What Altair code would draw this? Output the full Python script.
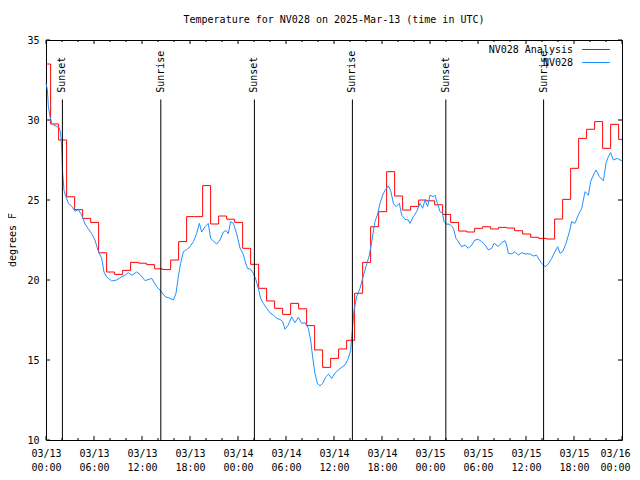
import json
import altair as alt
import pandas as pd

# ---- data ----
# Analysis (red) : hourly step values, step k starts at about hour k-0.42
red_values = [33.5, 29.75, 28.75, 25.2, 24.4, 23.85, 23.6, 21.7, 20.5, 20.35,
              20.6, 21.1, 21.05, 20.96, 20.7, 20.65, 21.25, 22.4, 23.96, 23.96,
              25.9, 23.5, 24.0, 23.8, 23.6, 21.98, 20.98, 19.48, 18.69, 18.23,
              17.85, 18.54, 18.2, 17.15, 15.63, 14.54, 15.1, 15.69, 16.23, 19.17,
              21.1, 23.33, 24.27, 26.77, 25.25, 24.37, 24.6, 25.0, 24.95, 24.7,
              24.1, 23.6, 23.06, 23.0, 23.23, 23.33, 23.19, 23.29, 23.25, 23.08,
              22.875, 22.67, 22.6, 22.56, 23.81, 25.04, 26.98, 28.85, 29.42, 29.9,
              28.23, 29.73, 28.79]
red_hours = [0.0] + [k - 0.42 for k in range(1, 73)]

# Observations (blue)
blue_hours = [0.0, 0.17, 0.29, 0.5, 0.71, 0.92, 1.33, 1.67, 1.83, 1.96,
              2.08, 2.25, 2.5, 2.79, 3.21, 3.62, 4.04, 4.46, 4.88, 5.29,
              5.71, 6.12, 6.54, 6.96, 7.25, 7.58, 8.21, 8.83, 9.46, 9.88,
              10.29, 10.71, 11.33, 11.75, 12.38, 13.21, 13.83, 14.33, 14.88, 15.5,
              15.92, 16.25, 16.54, 16.83, 17.17, 17.58, 18.0, 18.42, 18.83, 19.17,
              19.46, 19.88, 20.29, 20.58, 21.0, 21.33, 21.75, 22.17, 22.5, 22.79,
              23.08, 23.42, 23.83, 24.25, 24.67, 24.88, 25.17, 25.58, 25.92, 26.25,
              26.54, 26.83, 27.17, 27.58, 28.0, 28.42, 28.83, 29.25, 29.58, 29.88,
              30.29, 30.71, 31.12, 31.54, 31.96, 32.38, 32.79, 33.08, 33.33, 33.62,
              33.92, 34.25, 34.58, 35.0, 35.33, 35.71, 36.12, 36.54, 36.96, 37.38,
              37.79, 38.08, 38.33, 38.5, 38.83, 39.25, 39.58, 40.0, 40.42, 40.75,
              41.12, 41.42, 41.75, 42.08, 42.38, 42.79, 43.08, 43.42, 43.75, 44.17,
              44.46, 44.88, 45.29, 45.5, 45.92, 46.33, 46.75, 47.08, 47.38, 47.71,
              48.0, 48.42, 48.62, 48.92, 49.25, 49.58, 49.75, 50.0, 50.5, 50.92,
              51.25, 51.54, 51.96, 52.38, 52.79, 53.21, 53.62, 54.04, 54.46, 54.88,
              55.29, 55.71, 56.0, 56.54, 56.96, 57.38, 57.58, 57.79, 58.21, 58.62,
              59.04, 59.46, 59.88, 60.5, 60.92, 61.33, 61.67, 61.96, 62.38, 62.79,
              63.21, 63.62, 63.96, 64.25, 64.58, 65.0, 65.42, 65.71, 66.12, 66.54,
              66.96, 67.38, 67.79, 68.08, 68.42, 68.75, 69.17, 69.67, 70.0, 70.29,
              70.58, 70.92, 71.42, 72.0]
blue_values = [32.3, 31.9, 30.9, 30.2, 29.8, 29.7, 29.6, 29.5, 29.2, 28.3,
               26.7, 25.6, 25.2, 24.8, 24.6, 24.3, 24.4, 24.06, 23.5, 23.2,
               22.9, 22.5, 21.8, 21.35, 20.5, 20.2, 19.94, 20.0, 20.2, 20.3,
               20.46, 20.3, 20.5, 20.35, 19.96, 20.1, 19.58, 19.33, 18.96, 18.85,
               18.75, 19.17, 20.2, 21.04, 21.77, 21.9, 22.08, 22.4, 22.9, 23.54,
               23.0, 23.33, 23.54, 22.6, 22.4, 22.25, 22.5, 23.0, 23.1, 22.9,
               23.65, 23.54, 22.9, 22.0, 21.6, 21.2, 20.73, 20.67, 20.42, 20.0,
               19.48, 18.85, 18.54, 18.23, 17.96, 17.81, 17.6, 17.54, 17.4, 16.92,
               17.19, 17.7, 17.33, 17.67, 17.29, 17.33, 16.98, 16.25, 15.2, 14.17,
               13.54, 13.38, 13.54, 13.96, 14.12, 13.85, 14.17, 14.38, 14.54, 14.69,
               15.1, 15.6, 17.08, 18.1, 18.96, 19.48, 20.1, 20.83, 21.56, 22.5,
               23.65, 24.06, 24.79, 25.3, 25.6, 25.88, 25.6, 24.79, 24.58, 24.79,
               24.06, 23.79, 23.75, 23.54, 23.96, 24.27, 24.79, 24.48, 25.0, 24.6,
               25.3, 25.2, 25.3, 24.8, 24.27, 24.17, 23.65, 23.5, 23.48, 23.23,
               22.6, 22.4, 22.08, 22.19, 21.98, 22.19, 22.5, 22.54, 22.4, 22.19,
               21.88, 21.98, 22.29, 22.1, 22.33, 22.46, 22.19, 21.67, 21.63, 21.77,
               21.56, 21.71, 21.63, 21.63, 21.5, 21.55, 21.25, 21.04, 20.83, 21.0,
               21.35, 21.77, 22.08, 21.67, 21.77, 22.29, 23.0, 23.65, 23.54, 24.06,
               24.48, 25.52, 25.3, 26.15, 26.56, 26.88, 26.46, 26.2, 27.29, 27.7,
               27.96, 27.5, 27.6, 27.44]

sun_hours = [2.05, 14.35, 26.05, 38.3, 49.98, 62.2]
sun_labels = ["Sunset", "Sunrise", "Sunset", "Sunrise", "Sunset", "Sunrise"]

x_tick_hours = [0, 6, 12, 18, 24, 30, 36, 42, 48, 54, 60, 66, 72]
x_minor_hours = [h for h in range(0, 73, 2) if h % 6 != 0]
date_labels = ["03/13", "03/13", "03/13", "03/13", "03/14", "03/14", "03/14",
               "03/14", "03/15", "03/15", "03/15", "03/15", "03/16"]
time_labels = ["00:00", "06:00", "12:00", "18:00", "00:00", "06:00", "12:00",
               "18:00", "00:00", "06:00", "12:00", "18:00", "00:00"]
y_ticks = [10, 15, 20, 25, 30, 35]

title_text = "Temperature for NV028 on 2025-Mar-13 (time in UTC)"
y_title = "degrees F"
series_names = ["NV028 Analysis", "NV028"]
series_colors = ["#ff0000", "#1e90ff"]

FONT = "DejaVu Sans Mono"
W, H = 576, 400

red_df = pd.DataFrame({"h": red_hours + [72.0], "t": red_values + [red_values[-1]]})
blue_df = pd.DataFrame({"h": blue_hours, "t": blue_values})
sun_df = pd.DataFrame({"h": sun_hours, "label": sun_labels})

label_expr = (f"[{json.dumps(date_labels)}[round(datum.value/6)], "
              f"{json.dumps(time_labels)}[round(datum.value/6)]]")

x_enc = alt.X("h:Q",
              scale=alt.Scale(domain=[0, 72], nice=False, zero=False),
              axis=alt.Axis(values=x_tick_hours, labelExpr=label_expr, title=None,
                            ticks=False, tickSize=0, domain=False, grid=False,
                            labelFont=FONT, labelFontSize=10, labelColor="black",
                            labelLineHeight=14, labelPadding=8, labelBaseline="top",
                            labelFlush=False, labelOverlap=False,
                            labelAlign={"condition": {"test": "datum.value >= 72",
                                                      "value": "right"},
                                        "value": "center"},
                            labelOffset={"condition": {"test": "datum.value >= 72",
                                                       "value": 8},
                                         "value": 0}))
y_enc = alt.Y("t:Q",
              scale=alt.Scale(domain=[10, 35], nice=False, zero=False),
              axis=alt.Axis(values=y_ticks, title=None, ticks=False, tickSize=0,
                            domain=False, grid=False, labelFont=FONT, labelFontSize=10,
                            labelColor="black", labelPadding=7, labelFlush=False))

red = alt.Chart(red_df).mark_line(interpolate="step-after", color=series_colors[0],
                                  strokeWidth=1).encode(x=x_enc, y=y_enc)
blue = alt.Chart(blue_df).mark_line(color=series_colors[1], strokeWidth=1).encode(x="h:Q", y="t:Q")

sun_lines = alt.Chart(sun_df).mark_rule(color="black", strokeWidth=1).encode(
    x="h:Q", y=alt.datum(10), y2=alt.datum(31.28))
sun_text = alt.Chart(sun_df).mark_text(angle=270, align="left", baseline="middle",
                                       font=FONT, fontSize=10, color="black").encode(
    x="h:Q", y=alt.datum(31.7), text="label:N")

xmaj = pd.DataFrame({"h": x_tick_hours})
xmin = pd.DataFrame({"h": x_minor_hours})
ydf = pd.DataFrame({"t": y_ticks})
tick_layers = [
    alt.Chart(xmaj).mark_rule(color="black").encode(x="h:Q", y=alt.value(H), y2=alt.value(H - 4)),
    alt.Chart(xmaj).mark_rule(color="black").encode(x="h:Q", y=alt.value(0), y2=alt.value(4)),
    alt.Chart(xmin).mark_rule(color="black").encode(x="h:Q", y=alt.value(H), y2=alt.value(H - 2)),
    alt.Chart(xmin).mark_rule(color="black").encode(x="h:Q", y=alt.value(0), y2=alt.value(2)),
    alt.Chart(ydf).mark_rule(color="black").encode(y="t:Q", x=alt.value(0), x2=alt.value(4)),
    alt.Chart(ydf).mark_rule(color="black").encode(y="t:Q", x=alt.value(W), x2=alt.value(W - 4)),
]

one = pd.DataFrame({"a": [0]})
title = alt.Chart(one).mark_text(text=title_text, font=FONT, fontSize=10, color="black",
                                 align="center", baseline="middle").encode(
    x=alt.value(W / 2), y=alt.value(-20))
ytitle = alt.Chart(one).mark_text(text=y_title, font=FONT, fontSize=10, color="black",
                                  angle=270, align="center", baseline="middle").encode(
    x=alt.value(-33), y=alt.value(200))

legend_layers = []
for i, (name, col) in enumerate(zip(series_names, series_colors)):
    yy = 9.5 + 13 * i
    legend_layers.append(alt.Chart(one).mark_text(text=name, font=FONT, fontSize=10,
                                                  color="black", align="right",
                                                  baseline="middle").encode(
        x=alt.value(527), y=alt.value(yy)))
    legend_layers.append(alt.Chart(one).mark_rule(color=col, strokeWidth=1).encode(
        x=alt.value(536), x2=alt.value(564), y=alt.value(yy)))

chart = alt.layer(red, blue, sun_lines, sun_text, *tick_layers, title, ytitle,
                  *legend_layers).properties(
    width=W, height=H,
    autosize=alt.AutoSizeParams(type="none"),
    padding={"left": 38, "top": 32, "right": 10, "bottom": 32},
    background="white",
).configure_view(stroke="black", strokeWidth=1)

chart.save("out.html", embed_options={"renderer": "svg", "actions": False})
